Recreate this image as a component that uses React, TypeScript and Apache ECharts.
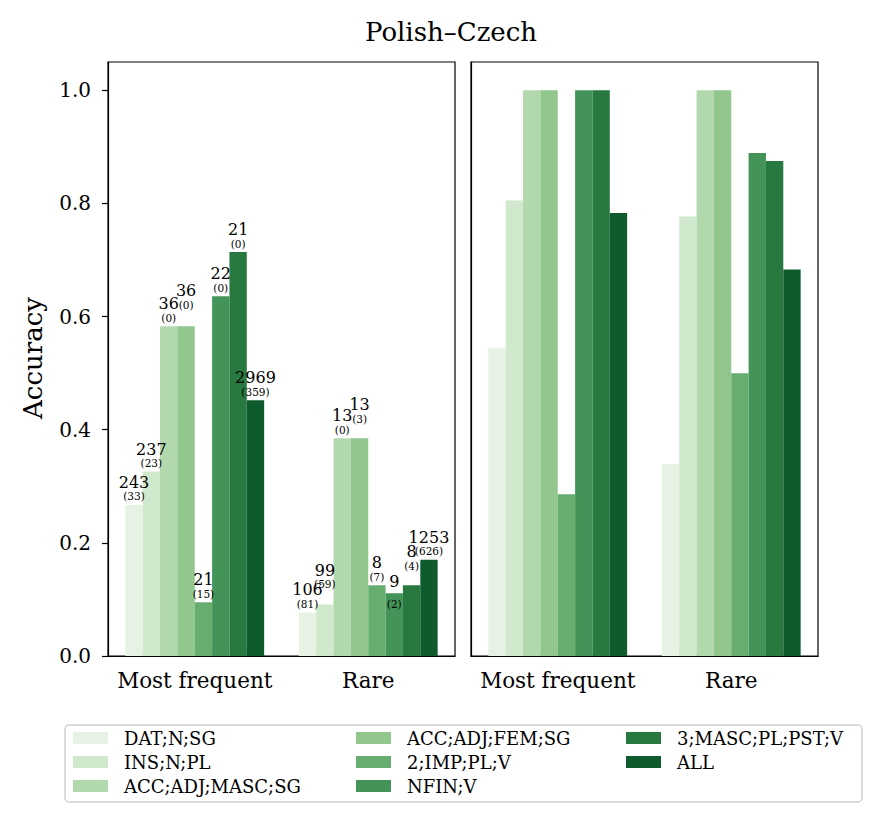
import React, { useEffect, useRef } from "react";
import * as echarts from "echarts";

const FONT = "DejaVu Serif";

const categories = ["Most frequent", "Rare"];
const seriesNames = [
  "DAT;N;SG",
  "INS;N;PL",
  "ACC;ADJ;MASC;SG",
  "ACC;ADJ;FEM;SG",
  "2;IMP;PL;V",
  "NFIN;V",
  "3;MASC;PL;PST;V",
  "ALL",
];
const colors = ["#e6f2e3", "#d0e8cb", "#b2d8ae", "#91c68c", "#68ad70", "#44945a", "#277940", "#0e5b2d"];

// left panel accuracy per series: [Most frequent, Rare]
const leftValues = [
  [0.267, 0.077],
  [0.326, 0.091],
  [0.583, 0.385],
  [0.583, 0.385],
  [0.095, 0.125],
  [0.636, 0.111],
  [0.714, 0.125],
  [0.452, 0.17],
];
// right panel accuracy per series: [Most frequent, Rare]
const rightValues = [
  [0.544, 0.339],
  [0.805, 0.777],
  [1.0, 1.0],
  [1.0, 1.0],
  [0.286, 0.5],
  [1.0, 0.889],
  [1.0, 0.875],
  [0.783, 0.683],
];
// annotation counts per series: [Most frequent, Rare]
const counts = [
  [243, 106],
  [237, 99],
  [36, 13],
  [36, 13],
  [21, 8],
  [22, 9],
  [21, 8],
  [2969, 1253],
];
const parenCounts = [
  [33, 81],
  [23, 59],
  [0, 0],
  [0, 3],
  [15, 7],
  [0, 2],
  [0, 4],
  [359, 626],
];
const yTicks = [0, 0.2, 0.4, 0.6, 0.8, 1.0];

// label nudges (px) to avoid overlaps, per series: [Most frequent, Rare]
const labelNudge = [
  [0, 0],
  [0, -12],
  [0, 0],
  [-13, -11],
  [0, 0],
  [0, 19.5],
  [0, -11],
  [0, 0],
];
const labelSpread = [
  [false, false],
  [false, false],
  [false, false],
  [false, false],
  [false, false],
  [false, true],
  [false, false],
  [false, false],
];

export default function App() {
  const ref = useRef<HTMLDivElement>(null);
  useEffect(() => {
    document.body.style.margin = "0";
    if (!ref.current) return;
    const chart = echarts.init(ref.current, null, { renderer: "svg" });

    const xAxes = [0, 1].map((g) => ({
      type: "category",
      gridIndex: g,
      data: categories,
      axisTick: { alignWithLabel: true, interval: 0, length: 6, lineStyle: { color: "#000", width: 1.2 } },
      axisLine: { lineStyle: { color: "#000", width: 1.2 } },
      axisLabel: { color: "#000", fontFamily: FONT, fontSize: 21.5, margin: 13, interval: 0, hideOverlap: false },
    }));

    const yAxes = [
      {
        type: "value",
        gridIndex: 0,
        min: 0,
        max: 1.05,
        interval: 0.2,
        splitLine: { show: false },
        axisLine: { show: true, lineStyle: { color: "#000", width: 1.2 } },
        axisTick: { show: true, length: 6, customValues: yTicks, lineStyle: { color: "#000", width: 1.2 } },
        axisLabel: {
          color: "#000",
          fontFamily: FONT,
          fontSize: 20,
          margin: 17,
          customValues: yTicks,
          formatter: (v: number) => (v > 1.001 ? "" : v.toFixed(1)),
        },
      },
      {
        type: "value",
        gridIndex: 1,
        min: 0,
        max: 1.05,
        interval: 0.2,
        splitLine: { show: false },
        axisLine: { show: true, lineStyle: { color: "#000", width: 1.2 } },
        axisTick: { show: false },
        axisLabel: { show: false },
      },
    ];

    const series: any[] = [];
    seriesNames.forEach((name, k) => {
      series.push({
        type: "bar",
        name,
        xAxisIndex: 0,
        yAxisIndex: 0,
        barGap: "0%",
        barCategoryGap: "20%",
        itemStyle: { color: colors[k] },
        data: leftValues[k].map((v, i) => ({ value: v, label: { offset: [0, labelNudge[k][i]] } })),
        label: {
          show: true,
          position: "top",
          distance: 1.5,
          color: "#000",
          fontFamily: FONT,
          formatter: (p: any) => {
            const i = p.dataIndex;
            const mid = labelSpread[k][i] ? "\n{s| }" : "";
            return `{a|${counts[k][i]}}${mid}\n{b|(${parenCounts[k][i]})}`;
          },
          rich: {
            a: { fontSize: 16, lineHeight: 14, fontFamily: FONT, color: "#000", align: "center" },
            b: { fontSize: 10.5, lineHeight: 14, fontFamily: FONT, color: "#000", align: "center" },
            s: { fontSize: 2, lineHeight: 9 },
          },
        },
        z: 2,
      });
    });
    seriesNames.forEach((name, k) => {
      series.push({
        type: "bar",
        name,
        xAxisIndex: 1,
        yAxisIndex: 1,
        barGap: "0%",
        barCategoryGap: "20%",
        itemStyle: { color: colors[k] },
        data: rightValues[k],
      });
    });

    const legendCols = [
      { left: 73, names: seriesNames.slice(0, 3) },
      { left: 356, names: seriesNames.slice(3, 6) },
      { left: 626, names: seriesNames.slice(6, 8) },
    ];

    chart.setOption({
      animation: false,
      color: colors,
      grid: [
        { left: 108, top: 62, width: 347, height: 594, show: true, borderColor: "#000", borderWidth: 1.2 },
        { left: 471, top: 62, width: 347, height: 594, show: true, borderColor: "#000", borderWidth: 1.2 },
      ],
      xAxis: xAxes,
      yAxis: yAxes,
      legend: legendCols.map((c) => ({
        orient: "vertical",
        left: c.left,
        top: 728,
        padding: 0,
        itemWidth: 35,
        itemHeight: 12,
        itemGap: 4,
        icon: "rect",
        z: 5,
        data: c.names,
        textStyle: { fontFamily: FONT, fontSize: 18, lineHeight: 20, color: "#000", padding: [0, 0, 0, 11] },
      })),
      graphic: [
        {
          type: "rect",
          z: 0,
          shape: { x: 65, y: 725, width: 797, height: 77, r: 4 },
          style: { fill: "#fff", stroke: "#d0d0d0", lineWidth: 1.5 },
        },
        {
          type: "text",
          x: 451,
          y: 32,
          style: {
            text: "Polish–Czech",
            fontFamily: FONT,
            fontSize: 26,
            fill: "#000",
            textAlign: "center",
            textVerticalAlign: "middle",
          },
        },
        {
          type: "text",
          x: 33,
          y: 358,
          rotation: Math.PI / 2,
          style: {
            text: "Accuracy",
            fontFamily: FONT,
            fontSize: 26,
            fill: "#000",
            textAlign: "center",
            textVerticalAlign: "middle",
          },
        },
      ],
      series,
    });
    return () => chart.dispose();
  }, []);
  return <div ref={ref} style={{ width: 881, height: 821 }} />;
}
